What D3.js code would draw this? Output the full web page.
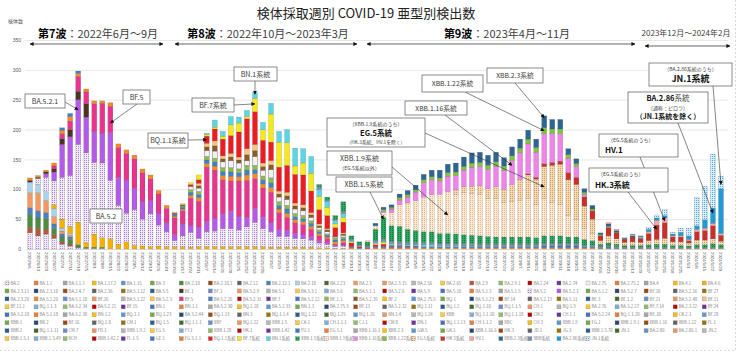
<!DOCTYPE html>
<html><head><meta charset="utf-8">
<script src="https://cdn.jsdelivr.net/npm/d3@7"></script>
<style>
html,body{margin:0;padding:0;background:#fff;}
svg{display:block;font-family:"Noto Sans CJK JP","Noto Sans",sans-serif;}
</style></head><body>
<svg id="chart" width="740" height="355"></svg>
<script>
// ---------- DATA ----------
const weeks = ["2022/6/6","2022/6/13","2022/6/20","2022/6/27","2022/7/4","2022/7/11","2022/7/18","2022/7/25","2022/8/1","2022/8/8",
"2022/8/15","2022/8/22","2022/8/29","2022/9/5","2022/9/12","2022/9/19","2022/9/26","2022/10/3","2022/10/10","2022/10/17",
"2022/10/24","2022/10/31","2022/11/7","2022/11/14","2022/11/21","2022/11/28","2022/12/5","2022/12/12","2022/12/19","2022/12/26",
"2023/1/2","2023/1/9","2023/1/16","2023/1/23","2023/1/30","2023/2/6","2023/2/13","2023/2/20","2023/2/27","2023/3/6",
"2023/3/13","2023/3/20","2023/3/27","2023/4/3","2023/4/10","2023/4/17","2023/4/24","2023/5/1","2023/5/8","2023/5/15",
"2023/5/22","2023/5/29","2023/6/5","2023/6/12","2023/6/19","2023/6/26","2023/7/3","2023/7/10","2023/7/17","2023/7/24",
"2023/7/31","2023/8/7","2023/8/14","2023/8/21","2023/8/28","2023/9/4","2023/9/11","2023/9/18","2023/9/25","2023/10/2",
"2023/10/9","2023/10/16","2023/10/23","2023/10/30","2023/11/6","2023/11/13","2023/11/20","2023/11/27","2023/12/4","2023/12/11",
"2023/12/18","2023/12/25","2024/1/1","2024/1/8","2024/1/15","2024/1/22","2024/1/29"];

const yTicks = [0,50,100,150,200,250,300,350];

const BA_2 = [
27,22,25,18,8,5,2,1,1,1,
0,0,0,0,0,0,0,0,0,0,
0,0,0,0,0,0,0,0,0,0,
0,0,0,0,0,0,0,0,0,0,
0,0,0,0,0,0,0,0,0,0,
0,0,0,0,0,0,0,0,0,0,
0,0,0,0,0,0,0,0,0,0,
0,0,0,0,0,0,0,0,0,0,
0,0,0,0,0,0,0];
const BA_2_9 = [
9,12,8,6,4,3,0,0,0,0,
0,0,0,0,0,0,0,0,0,0,
0,0,0,0,0,0,0,0,0,0,
0,0,0,0,0,0,0,0,0,0,
0,0,0,0,0,0,0,0,0,0,
0,0,0,0,0,0,0,0,0,0,
0,0,0,0,0,0,0,0,0,0,
0,0,0,0,0,0,0,0,0,0,
0,0,0,0,0,0,0];
const BA_2_10 = [
22,18,18,10,8,8,3,2,2,2,
0,0,0,0,0,0,0,0,0,0,
0,0,0,0,0,0,0,0,0,0,
0,0,0,0,0,0,0,0,0,0,
0,0,0,0,0,0,0,0,0,0,
0,0,0,0,0,0,0,0,0,0,
0,0,0,0,0,0,0,0,0,0,
0,0,0,0,0,0,0,0,0,0,
0,0,0,0,0,0,0];
const BA_2_12_1 = [
11,12,10,8,5,4,2,0,0,0,
0,0,0,0,0,0,0,0,0,0,
0,0,0,0,0,0,0,0,0,0,
0,0,0,0,0,0,0,0,0,0,
0,0,0,0,0,0,0,0,0,0,
0,0,0,0,0,0,0,0,0,0,
0,0,0,0,0,0,0,0,0,0,
0,0,0,0,0,0,0,0,0,0,
0,0,0,0,0,0,0];
const BA_2_3 = [
25,30,20,12,5,3,0,0,0,0,
0,0,0,0,0,0,0,0,0,0,
0,0,0,0,0,0,0,0,0,0,
0,0,0,0,0,0,0,0,0,0,
0,0,0,0,0,0,0,0,0,0,
0,0,0,0,0,0,0,0,0,0,
0,0,0,0,0,0,0,0,0,0,
0,0,0,0,0,0,0,0,0,0,
0,0,0,0,0,0,0];
const BA_2_18 = [
18,14,15,14,5,3,0,0,0,0,
0,0,0,0,0,0,0,0,0,0,
0,0,0,0,0,0,0,0,0,0,
0,0,0,0,0,0,0,0,0,0,
0,0,0,0,0,0,0,0,0,0,
0,0,0,0,0,0,0,0,0,0,
0,0,0,0,0,0,0,0,0,0,
0,0,0,0,0,0,0,0,0,0,
0,0,0,0,0,0,0];
const BA_4_6 = [
0,0,0,6,15,12,38,8,22,16,
17,8,12,6,5,4,5,4,4,4,
3,4,4,4,4,4,4,4,4,4,
3,3,3,3,3,3,2,2,1,1,
0,0,0,0,0,0,0,0,0,0,
0,0,0,0,0,0,0,0,0,0,
0,0,0,0,0,0,0,0,0,0,
0,0,0,0,0,0,0,0,0,0,
0,0,0,0,0,0,0];
const BA_5_2 = [
0,10,24,40,70,85,130,150,120,125,
98,65,48,60,45,55,35,25,10,18,
25,14,25,26,30,30,28,33,41,30,
26,18,18,15,14,12,8,6,3,4,
0,0,0,0,0,0,0,0,0,0,
0,0,0,0,0,0,0,0,0,0,
0,0,0,0,0,0,0,0,0,0,
0,0,0,0,0,0,0,0,0,0,
0,0,0,0,0,0,0];
const BA_5_2_1 = [
0,0,6,15,55,65,75,60,52,50,
80,47,55,35,30,22,20,15,10,20,
12,19,17,22,25,30,22,16,23,20,
16,12,10,8,8,6,4,3,2,2,
0,0,0,0,0,0,0,0,0,0,
0,0,0,0,0,0,0,0,0,0,
0,0,0,0,0,0,0,0,0,0,
0,0,0,0,0,0,0,0,0,0,
0,0,0,0,0,0,0];
const BE_1 = [
3,2,3,5,10,12,14,22,0,0,
0,0,0,0,0,0,0,0,0,0,
0,0,0,0,0,0,0,0,0,0,
0,0,0,0,0,0,0,0,0,0,
0,0,0,0,0,0,0,0,0,0,
0,0,0,0,0,0,0,0,0,0,
0,0,0,0,0,0,0,0,0,0,
0,0,0,0,0,0,0,0,0,0,
0,0,0,0,0,0,0];
const BF_5 = [
0,0,0,5,8,14,25,20,46,50,
44,50,45,50,48,36,32,24,28,22,
45,43,91,80,57,50,60,62,50,48,
50,28,22,18,16,12,8,6,2,3,
0,0,0,0,0,0,0,0,0,0,
0,0,0,0,0,0,0,0,0,0,
0,0,0,0,0,0,0,0,0,0,
0,0,0,0,0,0,0,0,0,0,
0,0,0,0,0,0,0];
const BA_5_2_20 = [
4,3,3,5,6,8,5,5,5,4,
6,6,6,6,6,7,6,5,3,3,
5,6,6,7,7,8,7,9,8,7,
8,6,7,5,5,5,4,3,4,4,
2,1,1,2,2,2,2,2,2,2,
2,2,2,2,2,2,2,2,2,2,
2,2,2,2,2,2,2,2,2,2,
2,1,1,1,1,1,1,1,1,1,
1,1,1,1,1,1,1];
const BA_5_2_26 = [
0,0,0,0,4,5,4,0,0,0,
0,0,0,0,0,0,0,0,3,3,
5,5,6,7,7,7,7,8,7,7,
8,6,7,5,5,5,3,3,3,3,
2,1,0,2,2,2,2,2,2,2,
2,2,2,2,2,2,2,2,2,2,
2,2,2,2,3,3,3,3,3,2,
2,1,2,1,1,1,1,1,1,1,
0,0,0,0,0,0,0];
const BE_1_1 = [
0,0,0,0,0,0,0,0,0,0,
0,0,0,0,0,0,0,0,0,2,
4,5,6,6,6,7,6,8,7,6,
8,6,6,5,5,4,3,2,3,3,
0,0,0,0,0,0,0,0,0,0,
0,0,0,0,0,0,0,0,0,0,
0,0,0,0,0,0,0,0,0,0,
0,0,0,0,0,0,0,0,0,0,
0,0,0,0,0,0,0];
const BA_2_75 = [
0,0,0,0,0,0,0,0,0,0,
0,0,0,0,0,0,0,0,0,0,
6,6,10,12,10,12,10,8,15,10,
14,8,10,8,8,6,4,4,2,3,
0,0,0,0,0,0,0,0,0,0,
0,0,0,0,0,0,0,0,0,0,
0,0,0,0,0,0,0,0,0,0,
0,0,0,0,0,0,0,0,0,0,
0,0,0,0,0,0,0];
const BA_5_2_35 = [
0,0,0,0,0,0,0,0,0,0,
0,0,0,0,0,0,0,0,2,2,
0,4,6,9,5,6,5,10,10,6,
8,5,6,5,5,4,3,3,1,2,
0,0,0,0,0,0,0,0,0,0,
0,0,0,0,0,0,0,0,0,0,
0,0,0,0,0,0,0,0,0,0,
0,0,0,0,0,0,0,0,0,0,
0,0,0,0,0,0,0];
const BF_11 = [
0,0,0,0,0,0,0,0,0,0,
0,0,0,0,0,0,0,0,2,2,
0,4,6,8,5,6,5,10,10,6,
7,5,6,5,5,4,3,2,0,2,
0,0,0,0,0,0,0,0,0,0,
0,0,0,0,0,0,0,0,0,0,
0,0,0,0,0,0,0,0,0,0,
0,0,0,0,0,0,0,0,0,0,
0,0,0,0,0,0,0];
const BQ_1_1 = [
0,0,0,0,0,0,0,0,0,0,
0,0,0,0,0,0,0,0,0,0,
3,6,12,20,28,30,42,50,55,38,
31,40,45,48,50,36,24,22,15,18,
6,2,1,3,4,2,2,1,1,0,
0,0,0,0,0,0,0,0,0,0,
0,0,0,0,0,0,0,0,0,0,
0,0,0,0,0,0,0,0,0,0,
0,0,0,0,0,0,0];
const BF_7 = [
0,0,0,0,0,0,0,0,0,0,
0,0,0,0,0,0,0,0,0,0,
3,8,3,3,5,18,15,4,22,18,
47,42,38,14,20,30,22,14,6,8,
2,0,0,2,3,0,0,0,0,0,
0,0,0,0,0,0,0,0,0,0,
0,0,0,0,0,0,0,0,0,0,
0,0,0,0,0,0,0,0,0,0,
0,0,0,0,0,0,0];
const BN_1 = [
0,0,0,0,0,0,0,0,0,0,
0,0,0,0,0,0,0,0,0,0,
0,0,2,12,8,14,10,10,10,12,
18,18,22,30,24,28,12,10,6,6,
2,1,0,2,2,3,2,2,2,3,
3,2,2,2,1,1,0,0,0,0,
0,0,0,0,0,0,0,0,0,0,
0,0,0,0,0,0,0,0,0,0,
0,0,0,0,0,0,0];
const XBB_OTHER = [
0,0,0,0,0,0,0,0,0,0,
0,0,0,0,0,0,0,0,0,0,
0,0,0,0,0,0,0,0,0,0,
0,0,0,0,0,0,4,2,2,4,
2,2,3,4,4,4,4,4,4,4,
4,4,4,4,4,4,4,4,4,4,
4,4,4,4,5,5,5,5,5,2,
2,2,2,2,1,1,1,1,1,1,
1,1,1,1,1,2,1];
const XBB_1_5 = [
0,0,0,0,0,0,0,0,0,0,
0,0,0,0,0,0,0,0,0,0,
0,0,0,0,0,0,0,0,0,0,
0,0,0,0,0,0,4,5,6,16,
6,5,7,18,36,26,26,22,20,18,
18,16,16,15,15,14,14,13,12,12,
12,12,12,11,12,12,12,10,10,10,
8,4,5,4,3,3,3,4,5,5,
4,4,3,5,5,6,5];
const XBB_1_9 = [
0,0,0,0,0,0,0,0,0,0,
0,0,0,0,0,0,0,0,0,0,
0,0,0,0,0,0,0,0,0,0,
0,0,0,0,0,0,0,0,0,0,
0,0,2,6,8,22,36,44,50,58,
62,66,70,66,70,70,70,64,64,58,
60,62,64,56,62,56,52,36,30,18,
12,0,0,0,0,0,0,0,0,0,
0,0,0,0,0,0,0];
const EG_5 = [
0,0,0,0,0,0,0,0,0,0,
0,0,0,0,0,0,0,0,0,0,
0,0,0,0,0,0,0,0,0,0,
0,0,0,0,0,0,0,0,0,0,
0,0,0,0,0,0,0,0,0,0,
0,0,0,8,10,12,14,16,20,22,
28,34,40,42,54,62,68,60,58,38,
24,6,12,9,5,6,5,7,8,10,
6,6,5,8,8,8,6];
const HK_3 = [
0,0,0,0,0,0,0,0,0,0,
0,0,0,0,0,0,0,0,0,0,
0,0,0,0,0,0,0,0,0,0,
0,0,0,0,0,0,0,0,0,0,
0,0,0,0,0,0,0,0,0,0,
0,0,0,0,0,0,0,0,0,0,
0,0,2,3,5,5,5,12,12,15,
14,8,14,10,5,8,6,12,24,26,
8,8,4,14,16,22,10];
const XBB_1_16 = [
0,0,0,0,0,0,0,0,0,0,
0,0,0,0,0,0,0,0,0,0,
0,0,0,0,0,0,0,0,0,0,
0,0,0,0,0,0,0,0,0,0,
0,0,0,0,2,6,8,10,14,24,
25,22,26,24,28,32,32,32,35,32,
40,45,50,42,50,48,46,24,18,4,
0,0,0,0,0,0,0,0,0,0,
0,0,0,0,0,0,0];
const XBB_1_22 = [
0,0,0,0,0,0,0,0,0,0,
0,0,0,0,0,0,0,0,0,0,
0,0,0,0,0,0,0,0,0,0,
0,0,0,0,0,0,0,0,0,0,
0,0,0,0,3,3,4,4,4,5,
5,5,6,6,6,7,7,7,7,7,
8,8,8,8,10,8,8,6,5,4,
3,2,2,1,0,0,0,0,0,0,
0,0,0,0,0,0,0];
const XBB_2_3 = [
0,0,0,0,0,0,0,0,0,0,
0,0,0,0,0,0,0,0,0,0,
0,0,0,0,0,0,0,0,0,0,
0,0,0,0,0,0,0,0,0,0,
0,0,0,4,4,4,6,7,8,9,
11,13,14,15,16,17,17,17,16,14,
15,15,15,14,20,16,16,10,8,6,
6,3,4,3,2,2,1,0,0,0,
0,0,0,0,0,0,0];
const HV_1 = [
0,0,0,0,0,0,0,0,0,0,
0,0,0,0,0,0,0,0,0,0,
0,0,0,0,0,0,0,0,0,0,
0,0,0,0,0,0,0,0,0,0,
0,0,0,0,0,0,0,0,0,0,
0,0,0,0,0,0,0,0,0,0,
0,0,0,0,0,0,0,0,0,0,
0,0,2,2,1,2,2,3,8,8,
2,2,2,4,4,4,3];
const BA_2_86 = [
0,0,0,0,0,0,0,0,0,0,
0,0,0,0,0,0,0,0,0,0,
0,0,0,0,0,0,0,0,0,0,
0,0,0,0,0,0,0,0,0,0,
0,0,0,0,0,0,0,0,0,0,
0,0,0,0,0,0,0,0,0,0,
0,0,0,0,0,0,0,0,0,0,
0,0,0,0,0,1,2,4,4,4,
3,6,6,6,14,26,75];
const JN_1 = [
0,0,0,0,0,0,0,0,0,0,
0,0,0,0,0,0,0,0,0,0,
0,0,0,0,0,0,0,0,0,0,
0,0,0,0,0,0,0,0,0,0,
0,0,0,0,0,0,0,0,0,0,
0,0,0,0,0,0,0,0,0,0,
0,0,0,0,0,0,0,0,0,0,
0,0,0,0,0,0,0,3,5,10,
3,7,13,48,56,90,21];

// stacking order (bottom -> top)
const seriesKeys = ["BA.2","BA.2.9","BA.2.10","BA.2.12.1","BA.2.3","BA.2.18","BA.4.6","BA.5.2","BA.5.2.1","BE.1","BF.5",
  "BA.5.2.20","BA.5.2.26","BE.1.1","BA.2.75","BA.5.2.35","BF.11","BQ.1.1系統","BF.7系統","BN.1系統","XBB系統",
  "XBB.1.5系統","XBB.1.9系統","EG.5系統","HK.3系統","XBB.1.16系統","XBB.1.22系統","XBB.2.3系統","HV.1","BA.2.86系統","JN.1系統"];
const seriesValues = [BA_2,BA_2_9,BA_2_10,BA_2_12_1,BA_2_3,BA_2_18,BA_4_6,BA_5_2,BA_5_2_1,BE_1,BF_5,
  BA_5_2_20,BA_5_2_26,BE_1_1,BA_2_75,BA_5_2_35,BF_11,BQ_1_1,BF_7,BN_1,XBB_OTHER,
  XBB_1_5,XBB_1_9,EG_5,HK_3,XBB_1_16,XBB_1_22,XBB_2_3,HV_1,BA_2_86,JN_1];

const legendNames = [
"BA.2","BA.1.1","BA.1.1.1","BA.1.17.2","BA.1.15","BA.3","BA.2.10","BA.2.10.1","BA.2.12","BA.2.12.1","BA.2.18","BA.2.23","BA.2.3","BA.2.3.15","BA.2.56","BA.2.65","BA.2.9","BA.2.9.1","BA.2.24","BA.2.74","BA.2.75","BA.2.75.2","BA.4","BA.4.1","BA.4.6",
"BA.2.3.11","BA.2.3.10","BA.2.4.7","BA.2.36","BA.5.1.12","BA.5.5","BE.1","BF.1","BA.5.2.9","BA.5.1","BA.5.3.1","BA.5.6","BA.5.1.1","BA.5.2.6","BA.5.9","BA.5.10","BA.5.1.3","BA.5.1.5","BA.5.2","BA.5.2.1","BA.5.1.2","BA.5.2.7","BF.10","BA.5.2.16","BF.27",
"BA.2.3.20","BA.5.2.20","BA.5.1.10","BF.26","BA.5.1.22","BA.5.2.3","BF.5","BA.5.2.26","BA.5.2.31","BF.7","BA.5.2.12","BE.1.1","BA.5.2.35","BF.2","BA.2.75.5","BQ.1","BA.5.1.23","BF.14","BA.5.2.13","BA.5.11","BE.3","BE.1.2","BF.21","BA.5.2.48","BF.11",
"BF.11.1","BQ.1.1.3","BA.5.2.34","BA.5.2.21","BF.15","BN.1","BN.1.1","BA.5.2.30","BQ.1.18","BA.5.2.33","BN.1.3","BA.2.75.3","BF.13","BA.5.2.32","BQ.1.11","BQ.1.2","BQ.1.10","BQ.1.1.5","CH.1","BQ.1.3","BA.2.76","BA.5.2.27","BF.7.14","BA.2.3.22","BF.24",
"BA.5.2.10","BA.5.2.18","BA.5.2.38","BN.1.2","BQ.1.1","BQ.1.23","BA.5.2.44","BQ.1.13","BN.3","BQ.1.1.4","BQ.1.12","BQ.1.25","BQ.1.26","BN.1.4","BQ.1.24","XBB","BQ.1.1.10","BQ.1.1.18","CM.2","CH.1.1","BA.5.2.24","BQ.1.1.20","BE.10","CK.2.1","BF.28",
"XBB.1","BR.2","BF.16","BQ.1.8","CM.1","BQ.1.5","BQ.1.1.1","XBF","BQ.1.22","XBB.1.5","CA.1","CH.1.1.1","CJ.1","CM.8","DN.1","BQ.1.1.13","CH.1.1.2","XBC","CH.3","XBB.1.9","EG.1","XBB.1.9.1","XBB.1.16","XBB.1.22","FL.1",
"XBB.2","BQ.1.1.11","CM.7","FD.1","XBB.1.9.2","EG.5","FY.1","XBB.1.28","HK.1","XBB.1.42","FU.1","EG.5.1","XBB.1.16.1","XBB.2.3","GW.5","GK.1","XBB.1.16.6","HK.3","JD.1","JG.3","XBB.1.5.70","JN.1","BA.2.86","BA.2.86.1","JN.2",
"XBB.1.5.1","XBB.1.5.49","XCH","XBB.1.42.2","FL.1.5","GE.1","EG.5.1.1","BQ.1.1系統","BF.7系統","BN.1系統","XBB.1.5系統","XBB.1.9系統","XBB.1.16系統","XBB.1.22系統","EG.5系統","HK.3系統","HV.1","XBB.2.3系統","XBB系統","BA.2.86系統","JN.1系統"];

// ---------- STYLE ----------
const seriesColor = {
  "BA.2":"url(#pBA2)","BA.2.9":"#b5573d","BA.2.10":"#4d8b3d","BA.2.12.1":"#4b7fbf","BA.2.3":"#f29a61","BA.2.18":"#a9d3ec",
  "BA.4.6":"#f5b000","BA.5.2":"url(#pB52)","BA.5.2.1":"#b45ae6","BE.1":"#4a3426","BF.5":"#e8348c",
  "BA.5.2.20":"#f08a2c","BA.5.2.26":"#3f84c2","BE.1.1":"#8fba4a","BA.2.75":"#f2f2f2","BA.5.2.35":"#8b5a2b","BF.11":"#f9c57e",
  "BQ.1.1系統":"#ec1c24","BF.7系統":"#f7e817","BN.1系統":"#5ad5e4","XBB系統":"#7d8fa8","XBB.1.5系統":"url(#pX15)",
  "XBB.1.9系統":"url(#pX19)","EG.5系統":"url(#pEG5)","HK.3系統":"#c9302c","XBB.1.16系統":"#ee84ea","XBB.1.22系統":"#7fc241",
  "XBB.2.3系統":"#2e6693","HV.1":"#f2a7a0","BA.2.86系統":"#1e9bd7","JN.1系統":"url(#pJN1)"
};
const fillerPalette = ["#4472c4","#ed7d31","#a5a5a5","#ffc000","#5b9bd5","#70ad47","#264478","#9e480e","#636363","#997300",
  "#255e91","#43682b","#698ed0","#f1975a","#b7b7b7","#ffcd33","#7cafdd","#8cc168","#c00000","#7030a0"];

const W = 740, H = 355;
const svg = d3.select("#chart");
const defs = svg.append("defs");
function dotPattern(id, bg, dot, size){
  const s = size || 2;
  const p = defs.append("pattern").attr("id",id).attr("width",s).attr("height",s).attr("patternUnits","userSpaceOnUse");
  p.append("rect").attr("width",s).attr("height",s).attr("fill",bg);
  p.append("rect").attr("width",1).attr("height",1).attr("fill",dot);
}
dotPattern("pBA2","#f1e8f8","#b48ddc");
dotPattern("pB52","#f2e9f9","#a97fd6");
dotPattern("pX15","#2ba85f","#137a3e");
dotPattern("pX19","#fce9d4","#e6b37a");
dotPattern("pEG5","#f8d9b2","#d19a5e");
dotPattern("pJN1","#d8eefa","#4ea8dd");
function addMarker(id){
  defs.append("marker").attr("id",id).attr("viewBox","0 0 10 10").attr("refX",9).attr("refY",5)
    .attr("markerWidth",4).attr("markerHeight",4).attr("markerUnits","userSpaceOnUse").attr("orient","auto-start-reverse")
    .append("path").attr("d","M0,0L10,5L0,10z").attr("fill","#111");
}
addMarker("arr");

svg.append("rect").attr("width",W).attr("height",H).attr("fill","#fff");

// ---------- SCALES ----------
const x = d3.scaleBand().domain(weeks).range([25.98, 725.0]).paddingInner(0.38).paddingOuter(0.19);
const y = d3.scaleLinear().domain([0,350]).range([249,40]);
const xc = i => x(weeks[i]) + x.bandwidth()/2;

// gridlines
svg.append("g").attr("transform","translate(25,0)")
  .call(d3.axisLeft(y).tickValues(yTicks.slice(1)).tickSize(-703).tickFormat(""))
  .call(g=>g.select(".domain").remove())
  .call(g=>g.selectAll("line").attr("stroke","#d9d9d9").attr("stroke-width",0.6));

// y labels
svg.append("g").attr("transform","translate(21,0)")
  .call(d3.axisLeft(y).tickValues(yTicks).tickSize(0).tickPadding(0))
  .call(g=>g.select(".domain").remove())
  .call(g=>g.selectAll("text").attr("font-size",5).attr("fill","#595959").attr("font-family","Liberation Sans, Arial, sans-serif"));
svg.append("text").attr("x",8).attr("y",23).attr("font-size",5).attr("fill","#595959").text("検体数");

// ---------- BARS ----------
const table = weeks.map((w,i)=>{ const o={week:w}; seriesKeys.forEach((k,j)=>o[k]=seriesValues[j][i]); return o; });
const stacked = d3.stack().keys(seriesKeys)(table);
const barG = svg.append("g");
stacked.forEach(layer=>{
  barG.append("g").selectAll("rect")
    .data(layer.filter(d=>d[1]>d[0]))
    .join("rect")
    .attr("x",d=>x(d.data.week))
    .attr("width",x.bandwidth())
    .attr("y",d=>y(d[1]))
    .attr("height",d=>y(d[0])-y(d[1]))
    .attr("fill",seriesColor[layer.key])
    .attr("stroke", layer.key==="BA.2.75" ? "#8c8c8c" : "rgba(40,40,40,0.4)")
    .attr("stroke-width", layer.key==="BA.2.75" ? 0.6 : 0.3);
});

// x axis
svg.append("g").attr("transform","translate(0,249)")
  .call(d3.axisBottom(x).tickSize(0).tickPadding(0))
  .call(g=>g.select(".domain").attr("stroke","#bfbfbf").attr("stroke-width",0.6))
  .call(g=>g.selectAll("text").attr("transform","rotate(90)").attr("x",3).attr("y",0).attr("dy","0.35em")
     .style("text-anchor","start").attr("font-size",4.3).attr("fill","#595959").attr("font-family","Liberation Sans, Arial, sans-serif"));

// ---------- TITLE & WAVES ----------
svg.append("text").attr("x",366).attr("y",18).attr("text-anchor","middle").attr("font-size",13).attr("fill","#222")
  .text("検体採取週別 COVID-19 亜型別検出数");

const waves = [
  {b:"第7波", r:"：2022年6月～9月", cx:98, x1:30, x2:163, ly:44, size:11},
  {b:"第8波", r:"：2022年10月～2023年3月", cx:268, x1:175, x2:357, ly:44, size:11},
  {b:"第9波", r:"：2023年4月～11月", cx:507, x1:367, x2:635, ly:44, size:11},
  {b:"", r:"2023年12月～2024年2月", cx:686, x1:645, x2:730, ly:46, size:8}
];
waves.forEach(wv=>{
  const t = svg.append("text").attr("x",wv.cx).attr("y", wv.size>9?38:36).attr("text-anchor","middle").attr("font-size",wv.size);
  if(wv.b) t.append("tspan").attr("font-weight","bold").attr("fill","#000").text(wv.b);
  t.append("tspan").attr("fill","#404040").text(wv.r);
  svg.append("line").attr("x1",wv.x1).attr("x2",wv.x2).attr("y1",wv.ly).attr("y2",wv.ly)
    .attr("stroke","#222").attr("stroke-width",0.7).attr("marker-start","url(#arr)").attr("marker-end","url(#arr)");
});

// ---------- ANNOTATIONS ----------
const notes = [
  {box:[25,94,40,14], lines:[{parts:[{t:"BA.5.2.1"}],size:7,y:104}], from:[65,102], bar:6, val:233},
  {box:[123,90,27,14], lines:[{parts:[{t:"BF.5"}],size:7,y:100}], from:[137,104], bar:10, val:211},
  {box:[90,209,32,14], lines:[{parts:[{t:"BA.5.2"}],size:7,y:219}]},
  {box:[148,133,40,15], lines:[{parts:[{t:"BQ.1.1系統"}],size:7,y:143}], from:[188,140], bar:22, val:183},
  {box:[192,98,42,14], lines:[{parts:[{t:"BF.7系統"}],size:7,y:108}], from:[234,105], bar:28, val:243},
  {box:[234,67,43,14], lines:[{parts:[{t:"BN.1系統"}],size:7,y:77}], from:[255,81], bar:28, val:259},
  {box:[327,118,98,29], lines:[
      {parts:[{t:"（XBB.1.9系統のうち）"}],size:5,y:126},
      {parts:[{t:"EG.5系統",b:true}],size:7.5,y:136},
      {parts:[{t:"（HK.3系統、HV.1を除く）"}],size:4.8,y:144}], from:[425,133], bar:64, val:104},
  {box:[327,151,65,24], lines:[{parts:[{t:"XBB.1.9系統"}],size:7,y:161},{parts:[{t:"（EG.5系統以外）"}],size:5,y:170}], from:[392,167], bar:52, val:57},
  {box:[336,177,56,15], lines:[{parts:[{t:"XBB.1.5系統"}],size:7,y:187}], from:[370,192], bar:44, val:50},
  {box:[405,101,62,14], lines:[{parts:[{t:"XBB.1.16系統"}],size:6.8,y:111}], from:[445,115], bar:60, val:140},
  {box:[422,75,61,17], lines:[{parts:[{t:"XBB.1.22系統"}],size:6.8,y:86}], from:[465,92], bar:64, val:198},
  {box:[487,68,56,15], lines:[{parts:[{t:"XBB.2.3系統"}],size:6.8,y:78}], from:[515,83], bar:64, val:220},
  {box:[589,168,79,24], lines:[{parts:[{t:"（EG.5系統のうち）"}],size:5,y:176,x:598,anchor:"start"},
      {parts:[{t:"HK.3系統",b:true}],size:8,y:188,x:595,anchor:"start"}], from:[628,192], bar:78, val:33},
  {box:[599,134,79,23], lines:[{parts:[{t:"（EG.5系統のうち）"}],size:5,y:142,x:608,anchor:"start"},
      {parts:[{t:"HV.1",b:true}],size:8,y:153,x:605,anchor:"start"}], from:[640,157], bar:79, val:47},
  {box:[628,92,80,31], lines:[{parts:[{t:"BA.2.86",b:true},{t:"系統"}],size:7.5,y:101},
      {parts:[{t:"（通称：ピロラ）"}],size:5,y:110},
      {parts:[{t:"（JN.1系統を除く）",b:true}],size:7,y:119}], from:[678,123], bar:85, val:60},
  {box:[649,63,83,23], lines:[{parts:[{t:"（BA.2.86系統のうち）"}],size:5,y:71},
      {parts:[{t:"JN.1系統",b:true}],size:9,y:82}], from:[713,86], bar:86, val:108}
];
const noteG = svg.append("g");
notes.forEach(n=>{
  if(n.from){
    noteG.append("line").attr("x1",n.from[0]).attr("y1",n.from[1]).attr("x2",xc(n.bar)).attr("y2",y(n.val))
      .attr("stroke","#333").attr("stroke-width",0.6).attr("marker-end","url(#arr)");
  }
});
notes.forEach(n=>{
  const [bx,by,bw,bh] = n.box;
  noteG.append("rect").attr("x",bx).attr("y",by).attr("width",bw).attr("height",bh)
    .attr("fill","#fff").attr("stroke","#595959").attr("stroke-width",0.7);
  n.lines.forEach(l=>{
    const t = noteG.append("text").attr("x", l.x!==undefined? l.x : bx+bw/2).attr("y",l.y)
      .attr("text-anchor", l.anchor||"middle").attr("font-size",l.size).attr("fill","#262626");
    l.parts.forEach(p=>t.append("tspan").attr("font-weight",p.b?"bold":"normal").attr("fill",p.b?"#111":"#404040").text(p.t));
  });
});

// ---------- LEGEND ----------
const legG = svg.append("g");
legendNames.forEach((name,i)=>{
  const col = i % 25, row = Math.floor(i/25);
  const lx = 7 + col*29.05, ly = 283 + row*7.95;
  const fill = seriesColor[name] || fillerPalette[i % fillerPalette.length];
  legG.append("rect").attr("x",lx-2).attr("y",ly-2).attr("width",4).attr("height",4)
    .attr("fill",fill).attr("stroke","#7f7f7f").attr("stroke-width",0.3);
  legG.append("text").attr("x",lx+3.5).attr("y",ly+1.6).attr("font-size",4.3).attr("fill","#7f7f7f").text(name);
});

// frame
svg.append("line").attr("x1",735.5).attr("x2",735.5).attr("y1",0).attr("y2",350).attr("stroke","#c8c8c8").attr("stroke-dasharray","2,2").attr("stroke-width",0.7);
svg.append("line").attr("x1",0).attr("x2",735.5).attr("y1",350.5).attr("y2",350.5).attr("stroke","#c8c8c8").attr("stroke-dasharray","2,2").attr("stroke-width",0.7);

// sanity check
seriesValues.forEach((a,j)=>{ if(a.length!==weeks.length) svg.append("text").attr("x",300).attr("y",60+j*8).attr("fill","red").attr("font-size",8).text("LEN "+seriesKeys[j]+" "+a.length); });
</script>
</body></html>
